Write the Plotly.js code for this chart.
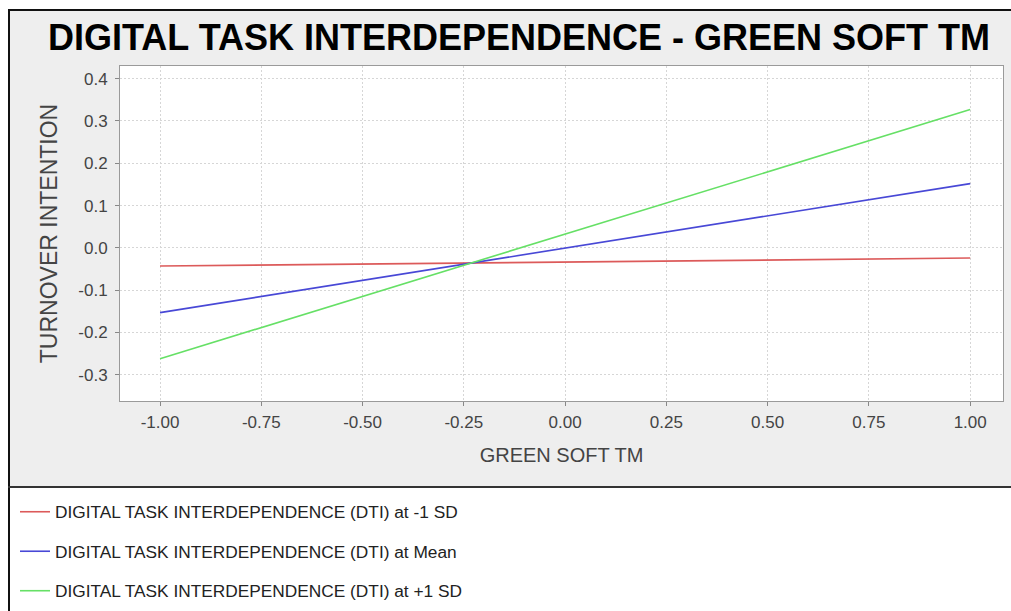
<!DOCTYPE html>
<html>
<head>
<meta charset="utf-8">
<script src="https://cdn.plot.ly/plotly-3.0.1.min.js"></script>
<style>html,body{margin:0;padding:0;background:#fff;overflow:hidden;}#chart{width:1011px;height:611px;}</style>
</head>
<body>
<div id="chart"></div>
<script>
// ---- data ----
var xValues = [-1.0, 1.0];
var seriesNames = [
  "DIGITAL TASK INTERDEPENDENCE (DTI) at -1 SD",
  "DIGITAL TASK INTERDEPENDENCE (DTI) at Mean",
  "DIGITAL TASK INTERDEPENDENCE (DTI) at +1 SD"
];
var lowSD  = [-0.043, -0.024];
var meanSD = [-0.153, 0.152];
var highSD = [-0.262, 0.327];
var xTickVals = [-1.0, -0.75, -0.5, -0.25, 0.0, 0.25, 0.5, 0.75, 1.0];
var xTickText = ["-1.00", "-0.75", "-0.50", "-0.25", "0.00", "0.25", "0.50", "0.75", "1.00"];
var yTickVals = [-0.3, -0.2, -0.1, 0.0, 0.1, 0.2, 0.3, 0.4];
var yTickText = ["-0.3", "-0.2", "-0.1", "0.0", "0.1", "0.2", "0.3", "0.4"];

// ---- layout geometry helpers (pixel -> paper) ----
var W = 1011, H = 611;
var M = {l: 120, r: 8, t: 66, b: 210};
var PW = W - M.l - M.r, PH = H - M.t - M.b;
function px(x) { return (x - M.l) / PW; }
function py(y) { return (H - M.b - y) / PH; }

var FONT = "Liberation Sans, Arial, Helvetica, sans-serif";
var colors = ["#dc5a5a", "#4848d6", "#66e066"];
var series = [lowSD, meanSD, highSD];

var traces = series.map(function (s, i) {
  return {
    x: xValues, y: s, type: "scatter", mode: "lines",
    name: seriesNames[i], legendgroup: "g" + i,
    line: {color: colors[i], width: 1.6},
    hoverinfo: "skip"
  };
});

var shapes = [
  // white outer strips
  {type: "rect", xref: "paper", yref: "paper", x0: px(-5), x1: px(W + 5), y0: py(9), y1: py(-5), fillcolor: "#fff", line: {width: 0}, layer: "below"},
  {type: "rect", xref: "paper", yref: "paper", x0: px(-5), x1: px(8), y0: py(H + 5), y1: py(-5), fillcolor: "#fff", line: {width: 0}, layer: "below"},
  // legend area
  {type: "rect", xref: "paper", yref: "paper", x0: px(9), x1: px(W + 5), y0: py(H + 5), y1: py(487), fillcolor: "#fff", line: {width: 0}, layer: "below"},
  // black frame lines
  {type: "line", xref: "paper", yref: "paper", x0: px(8), x1: px(W + 5), y0: py(10), y1: py(10), line: {color: "#111", width: 2}, layer: "below"},
  {type: "line", xref: "paper", yref: "paper", x0: px(9), x1: px(9), y0: py(9), y1: py(H + 5), line: {color: "#111", width: 2}, layer: "below"},
  {type: "line", xref: "paper", yref: "paper", x0: px(8), x1: px(W + 5), y0: py(487), y1: py(487), line: {color: "#333", width: 2}, layer: "below"}
];

var layout = {
  width: W, height: H,
  margin: M,
  paper_bgcolor: "#eeeeee",
  plot_bgcolor: "#ffffff",
  font: {family: FONT, color: "#444"},
  title: {
    text: "DIGITAL TASK INTERDEPENDENCE - GREEN SOFT TM",
    font: {family: FONT, size: 36, weight: "bold", color: "#000"},
    xref: "container", x: 519 / W, xanchor: "center",
    yref: "container", y: 1 - 37 / H, yanchor: "middle"
  },
  xaxis: {
    range: [-1.0988, 1.081],
    tickmode: "array", tickvals: xTickVals, ticktext: xTickText,
    ticks: "outside", ticklen: 4, tickcolor: "#888",
    ticklabelstandoff: 2,
    tickfont: {family: FONT, size: 17, color: "#444"},
    showline: true, linecolor: "#9a9a9a", linewidth: 1, mirror: true,
    showgrid: true, gridcolor: "#d6d6d6", griddash: "2px,2px", gridwidth: 1,
    zeroline: false, automargin: false,
    title: {text: "GREEN SOFT TM", font: {family: FONT, size: 20, color: "#444"}, standoff: 16}
  },
  yaxis: {
    range: [-0.362, 0.430],
    tickmode: "array", tickvals: yTickVals, ticktext: yTickText,
    ticks: "outside", ticklen: 4, tickcolor: "#888",
    ticklabelstandoff: 4,
    tickfont: {family: FONT, size: 17, color: "#444"},
    showline: true, linecolor: "#9a9a9a", linewidth: 1, mirror: true,
    showgrid: true, gridcolor: "#d6d6d6", griddash: "2px,2px", gridwidth: 1,
    zeroline: false, automargin: false,
    title: {text: "TURNOVER INTENTION", font: {family: FONT, size: 23, color: "#444"}, standoff: 14}
  },
  showlegend: true,
  legend: {
    xref: "paper", x: px(15), xanchor: "left",
    yref: "container", y: 1 - 494 / H, yanchor: "top",
    orientation: "v",
    bgcolor: "rgba(0,0,0,0)", borderwidth: 0,
    font: {family: FONT, size: 17.3, color: "#222"},
    traceorder: "grouped", tracegroupgap: 14
  },
  shapes: shapes
};

Plotly.newPlot("chart", traces, layout, {displayModeBar: false, staticPlot: true});
</script>
</body>
</html>
